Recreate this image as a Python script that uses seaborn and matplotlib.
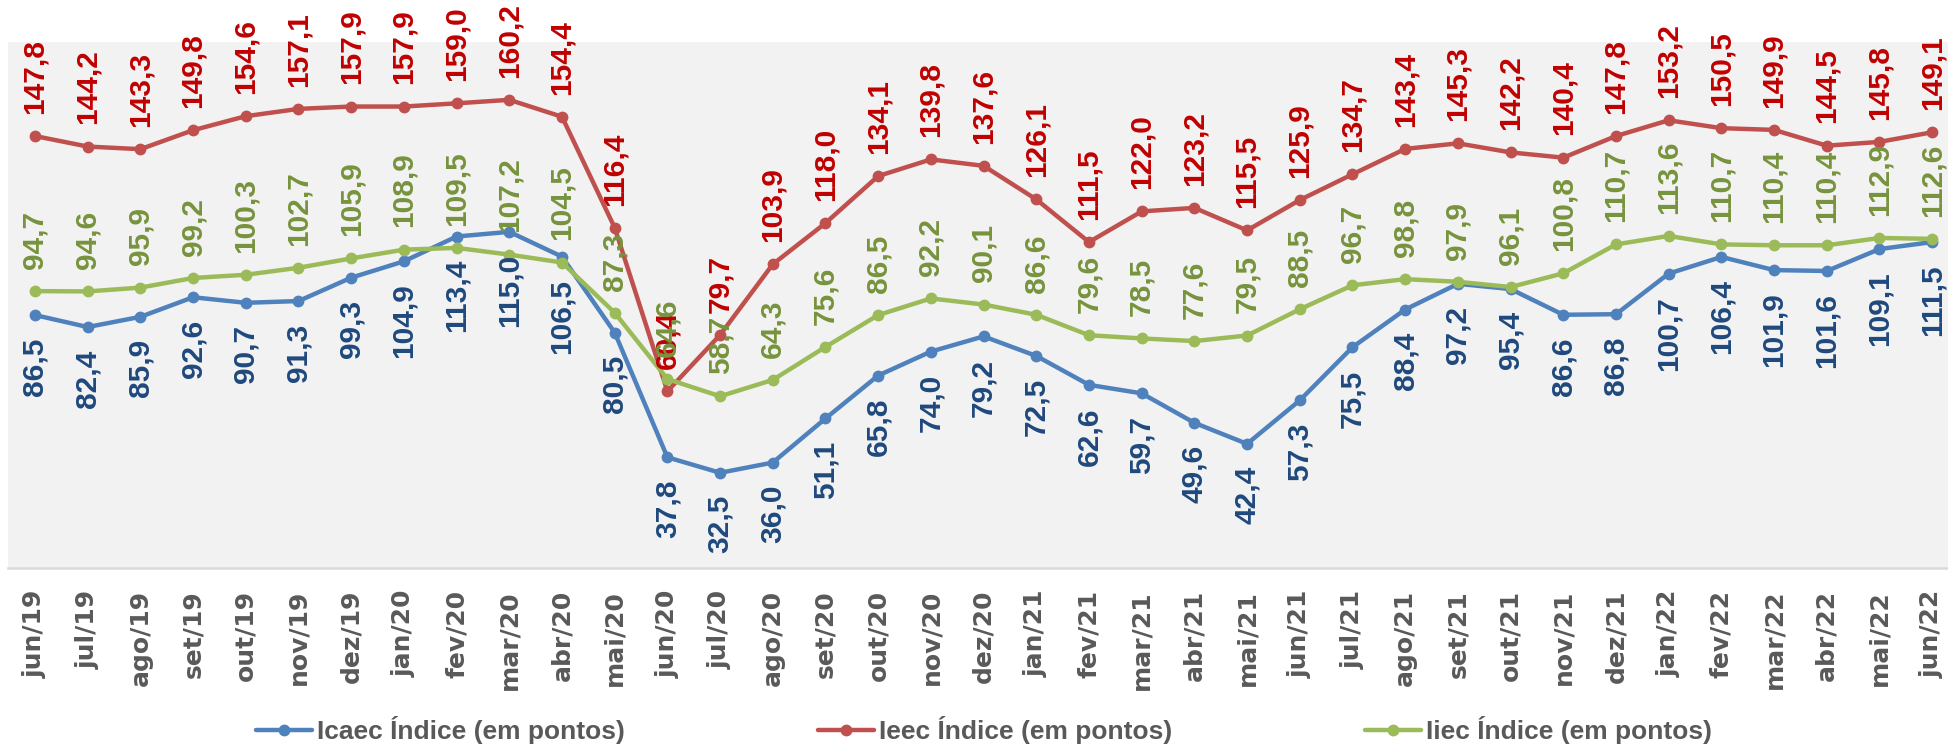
import numpy as np
import matplotlib
matplotlib.use("Agg")
import matplotlib.pyplot as plt
import seaborn as sns

# meses (jun/19 a jun/22)
meses = ["jun/19", "jul/19", "ago/19", "set/19", "out/19", "nov/19", "dez/19",
         "jan/20", "fev/20", "mar/20", "abr/20", "mai/20", "jun/20", "jul/20",
         "ago/20", "set/20", "out/20", "nov/20", "dez/20", "jan/21", "fev/21",
         "mar/21", "abr/21", "mai/21", "jun/21", "jul/21", "ago/21", "set/21",
         "out/21", "nov/21", "dez/21", "jan/22", "fev/22", "mar/22", "abr/22",
         "mai/22", "jun/22"]

icaec = [86.5, 82.4, 85.9, 92.6, 90.7, 91.3, 99.3, 104.9, 113.4, 115.0, 106.5,
         80.5, 37.8, 32.5, 36.0, 51.1, 65.8, 74.0, 79.2, 72.5, 62.6, 59.7, 49.6,
         42.4, 57.3, 75.5, 88.4, 97.2, 95.4, 86.6, 86.8, 100.7, 106.4, 101.9,
         101.6, 109.1, 111.5]

ieec = [147.8, 144.2, 143.3, 149.8, 154.6, 157.1, 157.9, 157.9, 159.0, 160.2,
        154.4, 116.4, 60.4, 79.7, 103.9, 118.0, 134.1, 139.8, 137.6, 126.1,
        111.5, 122.0, 123.2, 115.5, 125.9, 134.7, 143.4, 145.3, 142.2, 140.4,
        147.8, 153.2, 150.5, 149.9, 144.5, 145.8, 149.1]

iiec = [94.7, 94.6, 95.9, 99.2, 100.3, 102.7, 105.9, 108.9, 109.5, 107.2, 104.5,
        87.3, 64.6, 58.7, 64.3, 75.6, 86.5, 92.2, 90.1, 86.6, 79.6, 78.5, 77.6,
        79.5, 88.5, 96.7, 98.8, 97.9, 96.1, 100.8, 110.7, 113.6, 110.7, 110.4,
        110.4, 112.9, 112.6]

sns.set_style("white")
plt.rcParams["font.family"] = ["Liberation Sans", "DejaVu Sans"]

W, H = 1949, 747
fig = plt.figure(figsize=(W / 100, H / 100), dpi=100)
ax = fig.add_axes([8 / W, 1 - 567.7 / H, 1 - 8 / W, (567.7 - 42) / H])
ax.set_facecolor("#F2F2F2")

x = np.arange(len(meses))

series = [
    ("Icaec Índice (em pontos)", icaec, "#4F81BD", "#1F497D", -1),
    ("Ieec Índice (em pontos)", ieec, "#C0504D", "#C00000", 1),
    ("Iiec Índice (em pontos)", iiec, "#9BBB59", "#77933C", 1),
]

for nome, vals, cor, cor_txt, lado in series:
    sns.lineplot(x=x, y=vals, ax=ax, color=cor, marker="o", markersize=8.5,
                 markeredgewidth=0, linewidth=3.2, label=nome)

# rótulos de dados
for nome, vals, cor, cor_txt, lado in series:
    for xi, v in zip(x, vals):
        ax.annotate(f"{v:.1f}".replace(".", ","), (xi, v),
                    xytext=(0, 16 * lado), textcoords="offset points",
                    rotation=90, ha="center",
                    va="bottom" if lado > 0 else "top",
                    fontsize=21.5, fontweight="bold", color=cor_txt,
                    zorder=5, annotation_clip=False)

ax.set_ylim(0, 180)
ax.set_xlim(-(35 - 8) / 52.7, (W - 35) / 52.7)
ax.set_yticks([])
ax.set_xticks(x)
ax.set_xticklabels(meses, rotation=90, fontsize=18, fontweight="bold",
                   color="#595959", family="DejaVu Sans")
ax.tick_params(axis="x", length=0, pad=16)
ax.set_xlabel("")
ax.set_ylabel("")
for s in ["left", "top", "right"]:
    ax.spines[s].set_visible(False)
ax.spines["bottom"].set_color("#D9D9D9")
ax.spines["bottom"].set_linewidth(1.8)

handles, labels = ax.get_legend_handles_labels()
if ax.get_legend() is not None:
    ax.get_legend().remove()
fig.legend(handles, labels, loc="center left",
           bbox_to_anchor=(256 / W, 1 - 730 / H), ncol=3, frameon=False,
           handlelength=2.12, handletextpad=0.2, columnspacing=7.3,
           borderpad=0, borderaxespad=0,
           prop={"weight": "bold", "size": 19}, labelcolor="#595959")

fig.savefig("out.png", dpi=100)
